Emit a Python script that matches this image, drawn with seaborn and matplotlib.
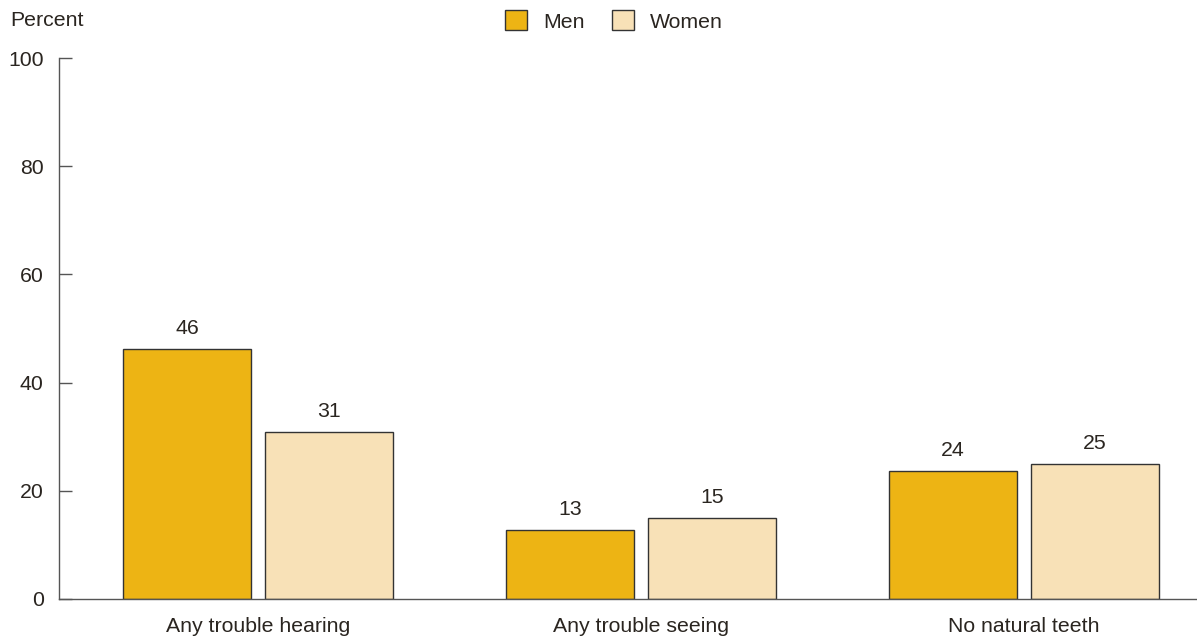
import matplotlib
matplotlib.use("Agg")
import matplotlib.pyplot as plt
import seaborn as sns
import pandas as pd
from matplotlib.patches import Patch

categories = ["Any trouble hearing", "Any trouble seeing", "No natural teeth"]
men = [46.2, 12.8, 23.7]
women = [30.9, 15.0, 25.0]
men_labels = ["46", "13", "24"]
women_labels = ["31", "15", "25"]
series = ["Men", "Women"]
colors = {"Men": "#EDB414", "Women": "#F8E1B7"}

df = pd.DataFrame({
    "category": categories * 2,
    "sex": ["Men"] * 3 + ["Women"] * 3,
    "value": men + women,
})

sns.set_theme(style="white")
plt.rcParams["font.family"] = ["Liberation Sans", "DejaVu Sans"]
text_color = "#2a2520"
axis_color = "#555555"
fs = 15.3

W, H = 1197, 636
fig = plt.figure(figsize=(W / 100, H / 100), dpi=100)
ax = fig.add_axes([59 / W, (H - 599) / H, (W - 59) / W, (599 - 58) / H])

sns.barplot(data=df, x="category", y="value", hue="sex", order=categories,
            hue_order=series, palette=colors, saturation=1, width=0.742, gap=0.1,
            edgecolor="#333333", linewidth=1.0, ax=ax, legend=False,
            errorbar=None)

ax.set_xlim(-0.5196, 2.4517)
ax.set_ylim(0, 100)
ax.set_yticks([0, 20, 40, 60, 80, 100])
ax.set_xlabel("")
ax.set_ylabel("")
for s in ["top", "right"]:
    ax.spines[s].set_visible(False)
for s in ["left", "bottom"]:
    ax.spines[s].set_color(axis_color)
    ax.spines[s].set_linewidth(1.0)
ax.tick_params(axis="y", direction="in", length=9.5, width=1.0, color=axis_color,
               labelsize=fs, labelcolor=text_color, pad=11, left=True)
ax.tick_params(axis="x", length=0, labelsize=fs, labelcolor=text_color, pad=13)

labels_all = [men_labels, women_labels]
for cont, labs in zip(ax.containers, labels_all):
    ax.bar_label(cont, labels=labs, padding=8, fontsize=fs, color=text_color)

fig.text(10 / W, 1 - 20 / H, "Percent", fontsize=fs, color=text_color,
         ha="left", va="center")

handles = [Patch(facecolor=colors[s], edgecolor="#333333", linewidth=1.0, label=s)
           for s in series]
leg = fig.legend(handles=handles, loc="center", bbox_to_anchor=(614 / W, 1 - 21 / H),
                 ncol=2, frameon=False, fontsize=fs, handlelength=1.05,
                 handleheight=1.05, handletextpad=0.75, columnspacing=1.3,
                 borderaxespad=0, borderpad=0)
for t in leg.get_texts():
    t.set_color(text_color)

fig.savefig("out.png", dpi=100)
